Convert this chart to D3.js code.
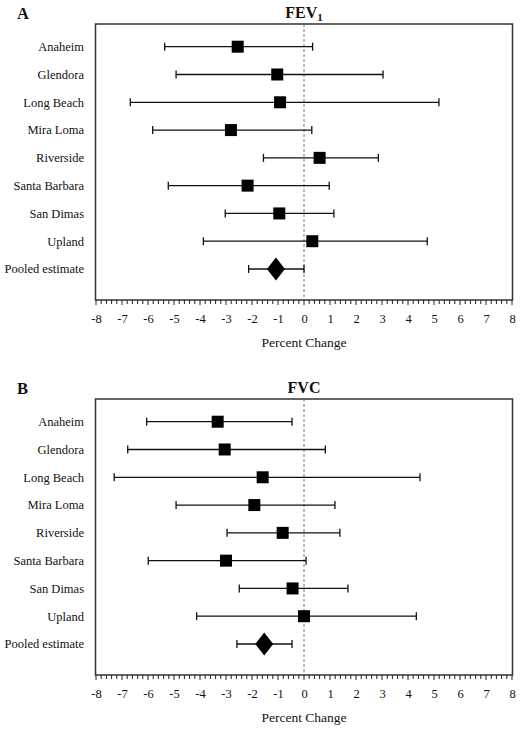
<!DOCTYPE html>
<html>
<head>
<meta charset="utf-8">
<script src="https://cdn.jsdelivr.net/npm/d3@7"></script>
<style>
  html, body { margin: 0; padding: 0; background: #fff; }
  svg { display: block; }
  text { font-family: "Liberation Serif", "Times New Roman", Times, serif; fill: #111; }
</style>
</head>
<body>
<svg id="chart" width="520" height="731"></svg>
<script>
const categories = ["Anaheim", "Glendora", "Long Beach", "Mira Loma", "Riverside",
  "Santa Barbara", "San Dimas", "Upland", "Pooled estimate"];

// Panel A: FEV1
const fevEstimate = [-2.55, -1.03, -0.92, -2.81, 0.60, -2.17, -0.95, 0.32, -1.08];
const fevLower    = [-5.36, -4.92, -6.68, -5.82, -1.56, -5.22, -3.03, -3.87, -2.13];
const fevUpper    = [ 0.33,  3.04,  5.19,  0.30,  2.86,  0.97,  1.15,  4.74,  0.00];

// Panel B: FVC
const fvcEstimate = [-3.32, -3.05, -1.59, -1.91, -0.82, -3.00, -0.44, 0.00, -1.53];
const fvcLower    = [-6.05, -6.78, -7.30, -4.92, -2.96, -5.99, -2.49, -4.13, -2.58];
const fvcUpper    = [-0.46,  0.82,  4.46,  1.19,  1.38,  0.08,  1.69,  4.32, -0.46];

const tickValues = [-8, -7, -6, -5, -4, -3, -2, -1, 0, 1, 2, 3, 4, 5, 6, 7, 8];
const xDomain = [-8, 8];
const xLabel = "Percent Change";

const svg = d3.select("#chart");
const x = d3.scaleLinear().domain(xDomain).range([96, 512]);

function panel(offsetY, letter, titleMain, titleSub, est, lo, hi) {
  const g = svg.append("g").attr("transform", `translate(0,${offsetY})`);
  const top = 24, bottom = 300, left = 95.5, right = 512.5;
  const y = d3.scalePoint().domain(categories).range([46.7, 269]);

  // frame
  g.append("rect").attr("x", left).attr("y", top)
    .attr("width", right - left).attr("height", bottom - top)
    .attr("fill", "none").attr("stroke", "#333").attr("stroke-width", 1.5);

  // zero reference line
  g.append("line").attr("x1", x(0)).attr("x2", x(0)).attr("y1", top).attr("y2", bottom)
    .attr("stroke", "#555").attr("stroke-width", 0.8).attr("stroke-dasharray", "3,2");

  // axis
  const minor = d3.range(-8, 8.0001, 0.2).map(v => Math.round(v * 10) / 10);
  const ax = g.append("g").attr("transform", `translate(0,${bottom})`);
  ax.selectAll("line.minor").data(minor).enter().append("line")
    .attr("x1", d => x(d)).attr("x2", d => x(d)).attr("y1", 0)
    .attr("y2", d => Number.isInteger(d) ? 5 : 4)
    .attr("stroke", "#222").attr("stroke-width", 1);
  const axis = d3.axisBottom(x).tickValues(tickValues).tickSize(0).tickPadding(14)
    .tickFormat(d => String(d));
  const axG = ax.append("g").call(axis);
  axG.select(".domain").remove();
  axG.attr("font-family", null);
  axG.selectAll("text").attr("font-size", 12.5).attr("fill", "#111");

  // x label
  g.append("text").attr("x", x(0)).attr("y", 347).attr("text-anchor", "middle")
    .attr("font-size", 13.5).text(xLabel);

  // category labels
  g.selectAll("text.cat").data(categories).enter().append("text")
    .attr("class", "cat").attr("x", 84).attr("y", d => y(d))
    .attr("dy", "0.35em").attr("text-anchor", "end").attr("font-size", 12.5)
    .text(d => d);

  // error bars
  const rows = categories.map((c, i) => ({ c, e: est[i], l: lo[i], h: hi[i], pooled: i === categories.length - 1 }));
  const bars = g.selectAll("g.row").data(rows).enter().append("g").attr("class", "row");
  bars.append("line").attr("x1", d => x(d.l)).attr("x2", d => x(d.h))
    .attr("y1", d => y(d.c)).attr("y2", d => y(d.c)).attr("stroke", "#111").attr("stroke-width", 1.3);
  bars.append("line").attr("x1", d => x(d.l)).attr("x2", d => x(d.l))
    .attr("y1", d => y(d.c) - 4).attr("y2", d => y(d.c) + 4).attr("stroke", "#111").attr("stroke-width", 1.3);
  bars.append("line").attr("x1", d => x(d.h)).attr("x2", d => x(d.h))
    .attr("y1", d => y(d.c) - 4).attr("y2", d => y(d.c) + 4).attr("stroke", "#111").attr("stroke-width", 1.3);
  bars.filter(d => !d.pooled).append("rect")
    .attr("x", d => x(d.e) - 6).attr("y", d => y(d.c) - 6)
    .attr("width", 12).attr("height", 12).attr("fill", "#000");
  bars.filter(d => d.pooled).append("path")
    .attr("d", d => {
      const cx = x(d.e), cy = y(d.c);
      return `M${cx},${cy - 11.5}L${cx + 9},${cy}L${cx},${cy + 11.5}L${cx - 9},${cy}Z`;
    })
    .attr("fill", "#000");

  // panel letter
  g.append("text").attr("x", 17).attr("y", 19).attr("font-size", 16.5)
    .attr("font-weight", "bold").text(letter);

  // title
  const t = g.append("text").attr("x", x(0)).attr("y", 18).attr("text-anchor", "middle")
    .attr("font-size", 16).attr("font-weight", "bold");
  t.append("tspan").text(titleMain);
  if (titleSub) t.append("tspan").attr("font-size", 11).attr("dy", 3).text(titleSub);
}

panel(0, "A", "FEV", "1", fevEstimate, fevLower, fevUpper);
panel(375, "B", "FVC", null, fvcEstimate, fvcLower, fvcUpper);
</script>
</body>
</html>
